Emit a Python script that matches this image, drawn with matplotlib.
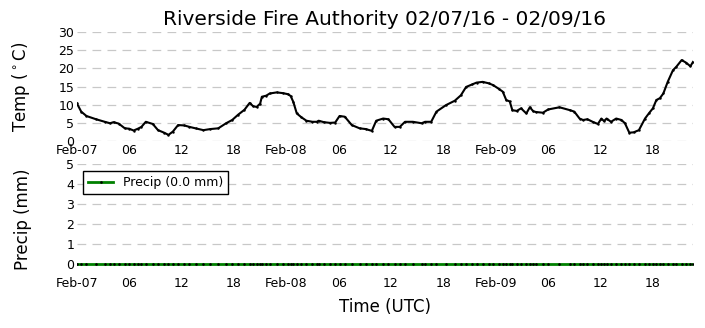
import datetime as dt
import matplotlib
matplotlib.use("Agg")
import matplotlib.pyplot as plt
import matplotlib.dates as mdates
from matplotlib.ticker import FuncFormatter

# hours after 2016-02-07 00:00 UTC and air temperature (C)
hours = [0, 0.5, 1.1, 2.2, 3.2, 3.8, 4.2, 4.8, 5.5, 6.0, 6.5, 7.0, 7.4, 7.9, 8.7, 9.3,
         10.0, 10.5, 11.0, 11.6, 12.3, 12.9, 13.6, 14.5, 15.3, 16.2, 17.1, 17.8, 18.5,
         19.2, 19.8, 20.2, 20.6, 21.0, 21.2, 21.7, 22.1, 22.9, 23.6, 24.2, 24.5, 24.8,
         25.2, 25.7, 26.3, 27.0, 27.5, 27.7, 28.3, 29.0, 29.6, 30.1, 30.7, 31.5, 32.4,
         33.1, 33.8, 34.3, 35.1, 35.7, 36.4, 37.0, 37.6, 38.5, 39.5, 39.9, 40.6, 41.2,
         42.3, 43.3, 44.0, 44.6, 45.3, 45.8, 46.5, 47.2, 47.7, 48.4, 48.8, 49.2, 49.6,
         49.9, 50.4, 50.9, 51.5, 51.9, 52.3, 52.6, 53.4, 54.0, 55.3, 56.5, 57.0, 57.6,
         58.0, 58.5, 59.1, 59.7, 60.1, 60.4, 60.7, 61.2, 61.8, 62.4, 62.8, 63.3, 63.8,
         64.4, 65.1, 65.6, 66.0, 66.4, 66.8, 67.2, 67.7, 68.3, 68.7, 69.3, 69.8, 70.3, 70.6]
temp = [10.4, 8.1, 6.9, 6.0, 5.3, 4.9, 5.2, 4.8, 3.5, 3.4, 2.9, 3.4, 3.9, 5.3, 4.7, 3.0,
        2.3, 1.7, 2.6, 4.4, 4.3, 3.9, 3.5, 3.0, 3.3, 3.5, 4.9, 5.8, 7.3,
        8.6, 10.5, 9.6, 9.4, 10.3, 12.2, 12.5, 13.1, 13.4, 13.2, 12.9, 12.4, 10.8,
        7.6, 6.6, 5.6, 5.3, 5.3, 5.6, 5.2, 5.0, 5.1, 6.9, 6.7, 4.4, 3.5,
        3.3, 2.8, 5.6, 6.2, 6.0, 3.9, 3.9, 5.3, 5.3, 4.9, 5.3, 5.3, 8.1,
        9.9, 11.1, 12.6, 14.9, 15.6, 16.1, 16.3, 15.9, 15.4, 14.3, 13.6, 11.3, 10.9,
        8.5, 8.3, 9.0, 7.6, 9.3, 8.2, 8.0, 7.8, 8.7, 9.3, 8.5, 8.1, 6.2,
        5.8, 6.0, 5.3, 4.7, 6.2, 5.5, 6.2, 5.3, 6.2, 5.8, 4.9, 2.3, 2.4,
        3.0, 6.2, 7.8, 9.0, 11.3, 11.8, 13.1, 16.3, 19.5, 20.5, 22.3, 21.6, 20.6, 21.8]
precip = [0.0] * len(hours)

start = dt.datetime(2016, 2, 7)
times = [start + dt.timedelta(hours=h) for h in hours]

fig = plt.figure(figsize=(7.05, 3.28), dpi=100)
ax1 = fig.add_axes([0.109, 0.570, 0.874, 0.332])
ax2 = fig.add_axes([0.109, 0.165, 0.874, 0.335])

ax1.plot(times, temp, color="black", lw=1.5, marker=".", ms=1.5)
ax2.plot(times, precip, color="green", lw=2, marker=".", ms=1.8, mfc="black", mec="black",
         label="Precip (%.1f mm)" % sum(precip))

def fmt(x, pos):
    d = mdates.num2date(x)
    return d.strftime("%b-%d") if d.hour == 0 else d.strftime("%H")

for ax in (ax1, ax2):
    ax.set_xlim(times[0], times[-1])
    ax.xaxis.set_major_locator(mdates.HourLocator(byhour=[0, 6, 12, 18]))
    ax.xaxis.set_major_formatter(FuncFormatter(fmt))
    for s in ax.spines.values():
        s.set_visible(False)
    ax.tick_params(length=0, labelsize=9, pad=2)
    ax.yaxis.grid(True, color="#c8c8c8", ls=(0, (7, 5)), lw=0.9)
    ax.set_axisbelow(True)

ax1.set_ylim(0, 30)
ax1.set_yticks(range(0, 31, 5))
ax1.set_ylabel(r"Temp ($^\circ$C)", fontsize=12)
ax1.set_title("Riverside Fire Authority 02/07/16 - 02/09/16", fontsize=14.5, pad=5)

ax2.set_ylim(-0.5, 5)
ax2.set_yticks(range(0, 6))
ax2.set_ylabel("Precip (mm)", fontsize=12)
ax2.set_xlabel("Time (UTC)", fontsize=12, labelpad=6)
leg = ax2.legend(loc="upper left", fontsize=9, fancybox=False, framealpha=1,
                 bbox_to_anchor=(0.0, 0.99))
leg.get_frame().set_edgecolor("black")

for ax in (ax1, ax2):
    ax.yaxis.set_label_coords(-0.072, 0.5)

fig.savefig("out.png", dpi=100)
